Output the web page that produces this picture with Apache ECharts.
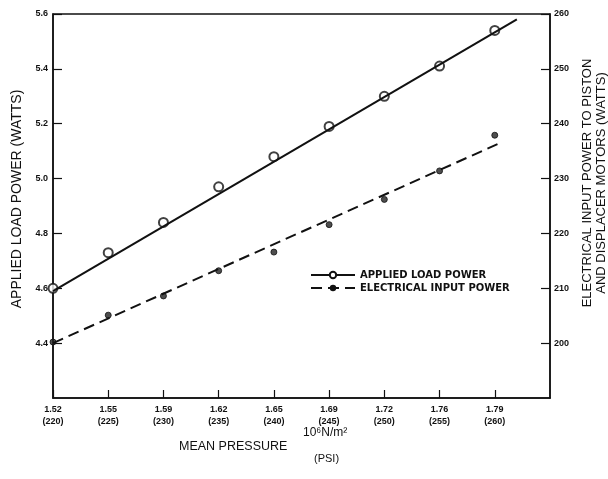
<!DOCTYPE html>
<html>
<head>
<meta charset="utf-8">
<script src="https://cdn.jsdelivr.net/npm/echarts@6/dist/echarts.min.js"></script>
<style>html,body{margin:0;padding:0;background:#fff;}#c{width:608px;height:479px;}</style>
</head>
<body>
<div id="c"></div>
<script>
// Data
var psiValues = [220, 225, 230, 235, 240, 245, 250, 255, 260];
var mpaLabels = ['1.52', '1.55', '1.59', '1.62', '1.65', '1.69', '1.72', '1.76', '1.79'];
var appliedLoad = [4.60, 4.73, 4.84, 4.97, 5.08, 5.19, 5.30, 5.41, 5.54];
var electricalInput = [200.2, 205.1, 208.6, 213.2, 216.6, 221.6, 226.2, 231.4, 237.9];
var appliedFitPsi = [220, 262];
var appliedFit = [4.59, 5.58];
var electricalFitPsi = [220, 260.6];
var electricalFit = [200.0, 236.6];
var leftTicks = ['4.4', '4.6', '4.8', '5.0', '5.2', '5.4', '5.6'];
var rightTicks = ['200', '210', '220', '230', '240', '250', '260'];

function pairs(xs, ys) { return xs.map(function (x, i) { return [x, ys[i]]; }); }

var chart = echarts.init(document.getElementById('c'));
var font = '"Liberation Sans", Arial, sans-serif';
var labelStyle = { color: '#111', fontSize: 9, fontWeight: 'bold', fontFamily: font };

chart.setOption({
  backgroundColor: '#fff',
  animation: false,
  grid: { left: 53, right: 58, top: 14, bottom: 81, show: true, borderColor: '#111', borderWidth: 1.5,
          containLabel: false, outerBoundsMode: 'none' },
  legend: {
    left: 305, top: 265, orient: 'vertical', itemGap: 3, itemWidth: 44, itemHeight: 8,
    textStyle: { color: '#111', fontSize: 10, fontWeight: 'bold', fontFamily: '"DejaVu Sans", sans-serif' },
    data: ['APPLIED LOAD POWER', 'ELECTRICAL INPUT POWER']
  },
  xAxis: {
    type: 'value', min: 220, max: 265, interval: 5,
    axisLine: { lineStyle: { color: '#111', width: 1.5 } },
    axisTick: { inside: true, length: 8, lineStyle: { color: '#111', width: 1.2 } },
    splitLine: { show: false },
    axisLabel: Object.assign({}, labelStyle, {
      margin: 6, lineHeight: 12, showMaxLabel: false,
      formatter: function (v) {
        var i = psiValues.indexOf(v);
        return i < 0 ? '' : mpaLabels[i] + '\n(' + psiValues[i] + ')';
      }
    })
  },
  yAxis: [{
    type: 'value', min: 4.2, max: 5.6, interval: 0.2, position: 'left',
    name: 'APPLIED LOAD POWER (WATTS)', nameLocation: 'middle', nameRotate: 90, nameGap: 29,
    nameTextStyle: { color: '#111', fontSize: 14, fontFamily: font, padding: [0, 0, 0, 14] },
    axisLine: { show: true, lineStyle: { color: '#111', width: 1.5 } },
    axisTick: { inside: true, length: 9, lineStyle: { color: '#111', width: 1.2 } },
    splitLine: { show: false },
    axisLabel: Object.assign({}, labelStyle, { margin: 5, showMinLabel: false,
      formatter: function (v) { var s = v.toFixed(1); return leftTicks.indexOf(s) >= 0 ? s : ''; } })
  }, {
    type: 'value', min: 190, max: 260, interval: 10, position: 'right',
    name: 'ELECTRICAL INPUT POWER TO PISTON\nAND DISPLACER MOTORS (WATTS)', nameLocation: 'middle', nameRotate: 90, nameGap: 30,
    nameTextStyle: { color: '#111', fontSize: 13, fontFamily: font, lineHeight: 14, padding: [0, 0, 0, 46] },
    axisLine: { show: true, lineStyle: { color: '#111', width: 1.5 } },
    axisTick: { inside: true, length: 9, lineStyle: { color: '#111', width: 1.2 } },
    splitLine: { show: false },
    axisLabel: Object.assign({}, labelStyle, { margin: 4, showMinLabel: false,
      formatter: function (v) { var s = String(v); return rightTicks.indexOf(s) >= 0 ? s : ''; } })
  }],
  series: [{
    name: 'APPLIED LOAD POWER', type: 'line', yAxisIndex: 0,
    data: pairs(appliedFitPsi, appliedFit),
    symbol: 'emptyCircle', symbolSize: 8, showSymbol: false,
    lineStyle: { color: '#111', width: 2 }, itemStyle: { color: '#111', borderWidth: 1.5 }
  }, {
    name: 'ELECTRICAL INPUT POWER', type: 'line', yAxisIndex: 1,
    data: pairs(electricalFitPsi, electricalFit),
    symbol: 'circle', symbolSize: 6, showSymbol: false,
    lineStyle: { color: '#111', width: 2, type: [11, 6] }, itemStyle: { color: '#111' }
  }, {
    name: 'applied points', type: 'scatter', yAxisIndex: 0,
    data: pairs(psiValues, appliedLoad),
    symbol: 'emptyCircle', symbolSize: 9,
    itemStyle: { color: '#111', borderColor: '#111', borderWidth: 1.5 }
  }, {
    name: 'electrical points', type: 'scatter', yAxisIndex: 1,
    data: pairs(psiValues, electricalInput),
    symbol: 'circle', symbolSize: 6,
    itemStyle: { color: '#222', borderColor: '#111', borderWidth: 1 }
  }],
  graphic: [
    { type: 'text', left: 179, top: 440, style: { text: 'MEAN PRESSURE', fill: '#111', font: '12.5px ' + font } },
    { type: 'text', left: 303, top: 427, style: { text: '10\u2076N/m\u00B2', fill: '#111', font: '12px ' + font } },
    { type: 'text', left: 314, top: 453, style: { text: '(PSI)', fill: '#111', font: '11px ' + font } }
  ]
});
</script>
</body>
</html>
